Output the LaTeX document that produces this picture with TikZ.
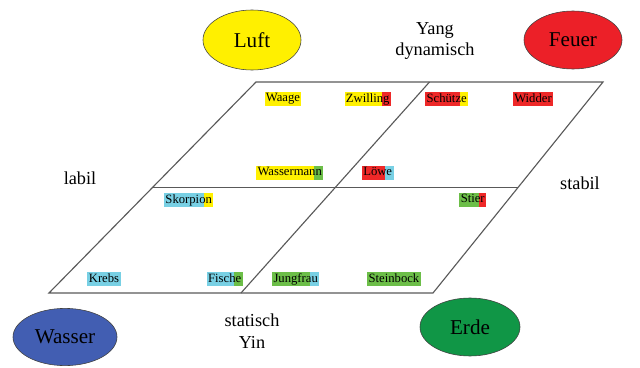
\documentclass[tikz,border=0pt]{standalone}
\usepackage{fontspec}
\setmainfont{Liberation Serif}
\usetikzlibrary{shapes.geometric,calc}

% element colours
\definecolor{luftgelb}{RGB}{255,240,0}
\definecolor{feuerrot}{RGB}{236,32,40}
\definecolor{wasserblau}{RGB}{66,94,178}
\definecolor{erdgruen}{RGB}{16,150,70}
% highlight colours for the signs
\definecolor{hgelb}{RGB}{255,240,0}
\definecolor{hrot}{RGB}{238,40,40}
\definecolor{hblau}{RGB}{120,208,228}
\definecolor{hgruen}{RGB}{108,190,72}

% sign with one or two highlight colours (boxes behind, text on top)
\newcommand{\feld}[2]{{\setlength{\fboxsep}{1pt}\colorbox{#1}{\vphantom{Ajg}#2}}}
\newcommand{\feldzwei}[4]{{\setlength{\fboxsep}{1pt}%
    \rlap{\colorbox{#1}{\vphantom{Ajg}\phantom{#2}}\hspace{-2pt}\colorbox{#3}{\vphantom{Ajg}\phantom{#4}}}%
    \hspace{1pt}#2#4\hspace{1pt}}}

\begin{document}
\begin{tikzpicture}[x=0.025cm,y=-0.025cm,
    element/.style={ellipse,draw=black!75,thin,font=\fontsize{15}{17}\selectfont},
    zeichen/.style={inner sep=0pt,font=\fontsize{9}{11}\selectfont},
    seite/.style={align=center,font=\fontsize{13}{15.5}\selectfont}]
    \useasboundingbox (0,0) rectangle (640,368);

    % Corners of the field
    \coordinate (OL) at (256,82);
    \coordinate (OR) at (603,82);
    \coordinate (UR) at (433,293);
    \coordinate (UL) at (49,293);

    % Draw outline and the two dividing lines
    \draw[black!65,thick] (OL) -- (OR) -- (UR) -- (UL) -- cycle;
    \draw[black!65,thick] ($(OL)!0.5!(UL)$) -- ($(OR)!0.5!(UR)$);
    \draw[black!65,thick] ($(OL)!0.5!(OR)$) -- ($(UL)!0.5!(UR)$);

    % Elements
    \node[element,fill=luftgelb,minimum width=2.45cm,minimum height=1.5cm] (luft) at (252,40) {Luft};
    \node[element,fill=feuerrot,minimum width=2.45cm,minimum height=1.45cm] (feuer) at (573,40) {Feuer};
    \node[element,fill=wasserblau,minimum width=2.6cm,minimum height=1.43cm] (wasser) at (65,337) {Wasser};
    \node[element,fill=erdgruen,minimum width=2.5cm,minimum height=1.45cm] (erde) at (470,327) {Erde};

    % Labels around the field
    \node[seite] (yang) at (435,41) {Yang\\dynamisch};
    \node[seite] (yin) at (252,331) {statisch\\Yin};
    \node[seite] (labil) at (80,178) {labil};
    \node[seite] (stabil) at (580,183) {stabil};

    % Signs, upper half
    \node[zeichen] (waage) at (283,99) {\feld{hgelb}{Waage}};
    \node[zeichen] (zwilling) at (367,99) {\feldzwei{hgelb}{Zwillin}{hrot}{g}};
    \node[zeichen] (schuetze) at (446,99) {\feldzwei{hrot}{Schütz}{hgelb}{e}};
    \node[zeichen] (widder) at (533,99) {\feld{hrot}{Widder}};
    \node[zeichen] (wassermann) at (289,173) {\feldzwei{hgelb}{Wasserman}{hgruen}{n}};
    \node[zeichen] (loewe) at (377,173) {\feldzwei{hrot}{Löw}{hblau}{e}};

    % Signs, lower half
    \node[zeichen] (skorpion) at (188,200) {\feldzwei{hblau}{Skorpio}{hgelb}{n}};
    \node[zeichen] (stier) at (472,200) {\feldzwei{hgruen}{Stie}{hrot}{r}};
    \node[zeichen] (krebs) at (104,279) {\feld{hblau}{Krebs}};
    \node[zeichen] (fische) at (224,279) {\feldzwei{hblau}{Fisch}{hgruen}{e}};
    \node[zeichen] (jungfrau) at (295,279) {\feldzwei{hgruen}{Jungfra}{hblau}{u}};
    \node[zeichen] (steinbock) at (394,279) {\feld{hgruen}{Steinbock}};
\end{tikzpicture}
\end{document}
